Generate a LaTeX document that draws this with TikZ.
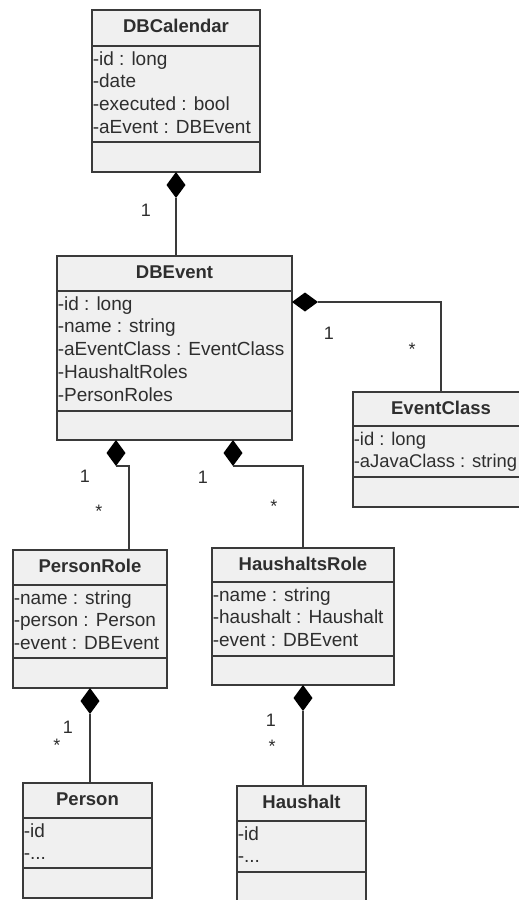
\documentclass[tikz,border=0pt]{standalone}
\usepackage{fontspec}
\setmainfont{Liberation Sans}
\usetikzlibrary{shapes.geometric}

\definecolor{boxfill}{HTML}{F0F0F0}
\definecolor{ink}{HTML}{2E2E2E}
\definecolor{edge}{HTML}{3A3A3A}

\tikzset{
  classbox/.style={draw=edge, line width=1.6pt, fill=boxfill, rectangle,
    inner sep=0pt, outer sep=0pt, anchor=north west},
  divider/.style={draw=edge, line width=1.6pt},
  title/.style={font=\bfseries\fontsize{18.5}{22}\selectfont, text=ink,
    inner sep=0pt, anchor=base},
  attr/.style={font=\fontsize{19}{22}\selectfont, text=ink, inner sep=0pt,
    anchor=base west},
  comp/.style={diamond, fill=black, draw=none, inner sep=0pt, outer sep=0pt,
    minimum width=19pt, minimum height=26pt},
  compH/.style={comp, minimum width=26pt, minimum height=19pt},
  link/.style={draw=edge, line width=1.5pt},
  mult/.style={font=\fontsize{18}{20}\selectfont, text=ink, inner sep=0pt},
}

% placeholder for omitted attributes
\newcommand\umldots{...}

% class box: name, left, top, width, height, header height, attribute block height, title
\newcommand\umlclass[8]{%
  \node[classbox, minimum width=#4pt, minimum height=#5pt] (#1) at (#2,#3) {};
  \draw[divider] ([yshift=-#6pt]#1.north west) -- ([yshift=-#6pt]#1.north east);
  \draw[divider] ([yshift=-#7pt]#1.north west) -- ([yshift=-#7pt]#1.north east);
  \node[title] (#1-t) at ([yshift=-22.5pt]#1.north) {#8};
}
% attribute lines: [extra style], name, header height, list
\newcommand\umlattrs[4][]{%
  \foreach \t [count=\i] in {#4}{%
    \pgfmathsetmacro\dy{#3+19+22.8*(\i-1)}
    \node[attr,#1] (#2-a\i) at ([xshift=0.6pt,yshift=-\dy pt]#2.north west) {\t};
  }%
}

\begin{document}
\begin{tikzpicture}[x=1pt, y=-1pt]
\useasboundingbox (0,0) rectangle (519,900);
\fill[white] (0,0) rectangle (519,900);
\clip (0,0) rectangle (519,900);

% classes
\umlclass{cal}{92}{10}{168}{162}{36}{132}{DBCalendar}
\umlattrs{cal}{36}{-id : long, -date, -executed : bool, -aEvent : DBEvent}

\umlclass{ev}{57}{256}{235}{184}{35}{155}{DBEvent}
\umlattrs{ev}{35}{-id : long, -name : string, -aEventClass : EventClass, -HaushaltRoles, -PersonRoles}

\umlclass{ec}{353}{392}{176}{115}{34}{85}{EventClass}
\umlattrs[font=\fontsize{18.4}{22}\selectfont]{ec}{34}{-id : long, -aJavaClass : string}

\umlclass{pr}{13}{550}{154}{138}{35}{108}{PersonRole}
\umlattrs{pr}{35}{-name : string, -person : Person, -event : DBEvent}

\umlclass{hr}{212}{548}{182}{137}{34}{108}{HaushaltsRole}
\umlattrs{hr}{34}{-name : string, -haushalt : Haushalt, -event : DBEvent}

\umlclass{pe}{23}{783}{129}{115}{35}{85}{Person}
\umlattrs{pe}{35}{-id, -\umldots}

\umlclass{hh}{237}{786}{129}{130}{35}{86}{Haushalt}
\umlattrs{hh}{35}{-id, -\umldots}

% compositions
\node[comp, anchor=north] (d1) at (cal.south) {};
\draw[link] (d1.south) -- (d1.south |- ev.north);

\node[compH, anchor=west] (d4) at ([yshift=-46pt]ev.north east) {};
\draw[link] (d4.east) -| (ec.north);

\node[comp, anchor=north] (d2) at ([xshift=-58.5pt]ev.south) {};
\draw[link] (d2.south) -| ([xshift=39pt]pr.north);

\node[comp, anchor=north] (d3) at ([xshift=58.5pt]ev.south) {};
\draw[link] (d3.south) -| (hr.north);

\node[comp, anchor=north] (d5) at (pr.south) {};
\draw[link] (d5.south) -- (d5.south |- pe.north);

\node[comp, anchor=north] (d6) at (hr.south) {};
\draw[link] (d6.south) -- (d6.south |- hh.north);

% multiplicities
\node[mult] (m1) at (146,210) {1};
\node[mult] (m2) at (329,333) {1};
\node[mult] (m3) at (412,349) {*};
\node[mult] (m4) at (85,476) {1};
\node[mult] (m5) at (99,511) {*};
\node[mult] (m6) at (203,477) {1};
\node[mult] (m7) at (274,506) {*};
\node[mult] (m8) at (68,727) {1};
\node[mult] (m9) at (57,745) {*};
\node[mult] (m10) at (271,720) {1};
\node[mult] (m11) at (272,746) {*};
\end{tikzpicture}
\end{document}
